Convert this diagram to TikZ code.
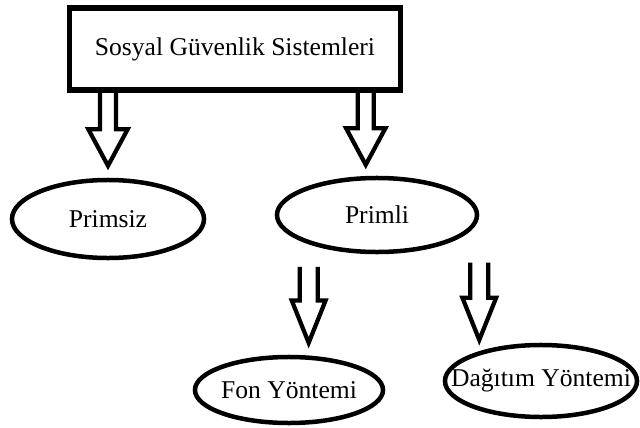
\documentclass[tikz,border=0pt]{standalone}
\usepackage{fontspec}
\setmainfont{Liberation Serif}
\usetikzlibrary{shapes}
\usetikzlibrary{calc}
\tikzset{
    mybox/.style = {rectangle, line width=3.6pt, draw=black, minimum width=8.25cm, minimum height=2.05cm, inner sep=0pt},
    myell/.style = {ellipse, line width=3.2pt, draw=black, inner xsep=-1.2cm, inner ysep=-4pt},
    edgeh/.style n args = {3}{line width=3pt, line join=miter,
        to path={let \p1=(\tikztostart), \p2=(\tikztotarget) in
          (\x1-#1,\y1) -- (\x1-#1,\y2+#3) -- (\x1-#2,\y2+#3) -- (\x1,\y2)
          -- (\x1+#2,\y2+#3) -- (\x1+#1,\y2+#3) -- (\x1+#1,\y1)}},
    edgeu/.style = {edgeh={5.7pt}{14pt}{26pt}}, % upper
    edgel/.style = {edgeh={6.4pt}{12pt}{30pt}}, % lower
}
\begin{document}
\begin{tikzpicture}[x=0.025cm, y=-0.025cm, font=\fontsize{18.2}{22}\selectfont]
\useasboundingbox (0,0) rectangle (640,428);
%
\node[mybox] at (235, 49) (root) {Sosyal Güvenlik Sistemleri};
\node[myell, minimum width=4.8cm, minimum height=1.95cm] at (108, 219) (primsiz) {Primsiz};
\node[myell, minimum width=5.0cm, minimum height=1.85cm] at (377, 215) (primli) {Primli};
\node[myell, minimum width=4.7cm, minimum height=1.65cm] at (289, 390) (fon) {Fon Yöntemi};
\node[myell, minimum width=4.8cm, minimum height=1.8cm] at (541, 381) (dagitim) {Dağıtım Yöntemi};
%
\draw[edgeu] (root.south -| primsiz.north) to ([yshift=8.5pt]primsiz.north);
\draw[edgeu] ([xshift=-8pt]root.south -| primli.north) to ([yshift=7.8pt]primli.north);
\draw[edgel] ([xshift=14pt,yshift=-9pt]primli.south -| fon.north) to ([yshift=8.5pt]fon.north);
\draw[edgel] ([yshift=-6pt]primli.south -| primli.east) to ([yshift=2pt]dagitim.north);

\end{tikzpicture}
\end{document}
